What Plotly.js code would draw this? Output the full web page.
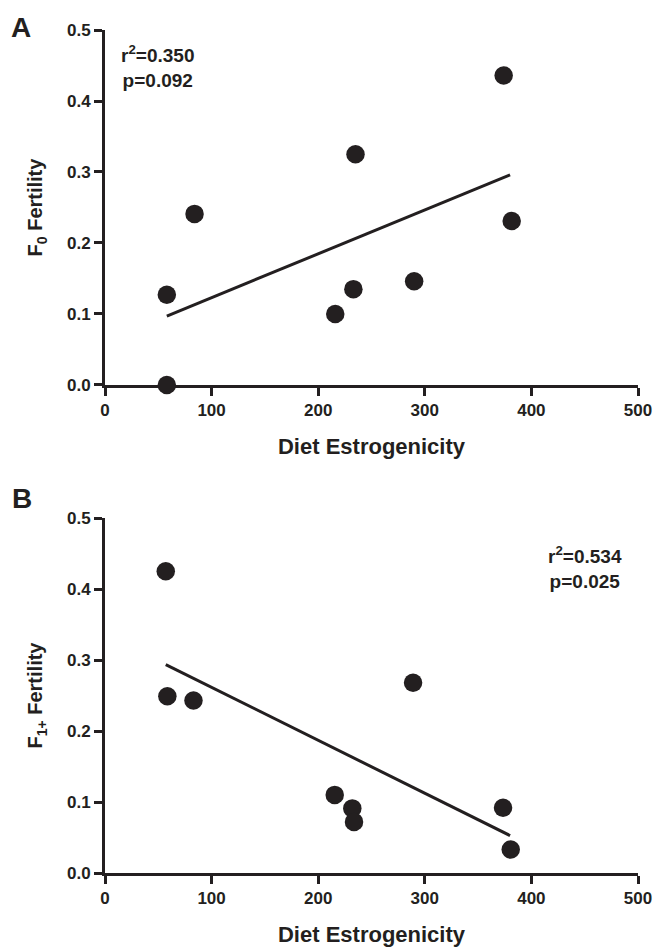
<!DOCTYPE html>
<html>
<head>
<meta charset="utf-8">
<script src="https://cdn.plot.ly/plotly-3.0.1.min.js"></script>
<style>html,body{margin:0;padding:0;background:#fff;}#chart{width:654px;height:947px;}</style>
</head>
<body>
<div id="chart"></div>
<script>
// Panel A: F0 fertility vs diet estrogenicity
var estrogenicityA = [58, 58, 84, 216, 233, 235, 290, 374, 381.5];
var fertilityF0 = [0.0, 0.127, 0.241, 0.100, 0.135, 0.325, 0.146, 0.436, 0.231];
var fitA_x = [58, 380];
var fitA_y = [0.097, 0.296];
var statsA = "r<sup>2</sup>=0.350<br>p=0.092";

// Panel B: F1+ fertility vs diet estrogenicity
var estrogenicityB = [57, 58.5, 83, 215.5, 232, 233.6, 289, 373.4, 380.6];
var fertilityF1 = [0.425, 0.249, 0.243, 0.110, 0.091, 0.072, 0.268, 0.092, 0.033];
var fitB_x = [57, 380];
var fitB_y = [0.2935, 0.0527];
var statsB = "r<sup>2</sup>=0.534<br>p=0.025";

var xTitle = "Diet Estrogenicity";
var yTitleA = "F<sub>0</sub> Fertility";
var yTitleB = "F<sub>1+</sub> Fertility";

var ink = "#231f20";
var fontFam = "Liberation Sans, Arial, sans-serif";

var traces = [
  {x: estrogenicityA, y: fertilityF0, mode: "markers", type: "scatter", xaxis: "x", yaxis: "y",
   marker: {size: 18.5, color: ink}, cliponaxis: false, showlegend: false, hoverinfo: "x+y"},
  {x: fitA_x, y: fitA_y, mode: "lines", type: "scatter", xaxis: "x", yaxis: "y",
   line: {color: ink, width: 3}, showlegend: false},
  {x: estrogenicityB, y: fertilityF1, mode: "markers", type: "scatter", xaxis: "x2", yaxis: "y2",
   marker: {size: 18.5, color: ink}, cliponaxis: false, showlegend: false, hoverinfo: "x+y"},
  {x: fitB_x, y: fitB_y, mode: "lines", type: "scatter", xaxis: "x2", yaxis: "y2",
   line: {color: ink, width: 3}, showlegend: false}
];

function xax(anchor) {
  return {
    anchor: anchor, domain: [0, 1], range: [0, 500], dtick: 100, tick0: 0,
    showline: true, linecolor: ink, linewidth: 3, ticks: "outside", ticklen: 8, tickwidth: 3, tickcolor: ink,
    showgrid: false, zeroline: false, layer: "below traces",
    tickfont: {family: fontFam, size: 17, color: ink, weight: "bold"},
    title: {text: xTitle, font: {family: fontFam, size: 22, color: ink, weight: "bold"}, standoff: 20}
  };
}
function yax(anchor, dom, title) {
  return {
    anchor: anchor, domain: dom, range: [0, 0.5], dtick: 0.1, tick0: 0, tickformat: ".1f",
    showline: true, linecolor: ink, linewidth: 3, ticks: "outside", ticklen: 8, tickwidth: 3, tickcolor: ink,
    showgrid: false, zeroline: false, layer: "below traces",
    tickfont: {family: fontFam, size: 17, color: ink, weight: "bold"},
    title: {text: title, font: {family: fontFam, size: 20, color: ink, weight: "bold"}, standoff: 19}
  };
}

var layout = {
  width: 654, height: 947,
  margin: {l: 105, r: 16, t: 30, b: 74, pad: 0},
  paper_bgcolor: "#fff", plot_bgcolor: "#fff",
  font: {family: fontFam, color: ink},
  xaxis: xax("y"),
  yaxis: yax("x", [0.5789, 1], yTitleA),
  xaxis2: xax("y2"),
  yaxis2: yax("x2", [0, 0.4211], yTitleB),
  annotations: [
    {text: statsA, xref: "x", yref: "y", x: 49.7, y: 0.448, showarrow: false, xanchor: "center", yanchor: "middle",
     align: "center", font: {family: fontFam, size: 19, color: ink, weight: "bold"}},
    {text: statsB, xref: "x2", yref: "y2", x: 450.7, y: 0.4305, showarrow: false, xanchor: "center", yanchor: "middle",
     align: "center", font: {family: fontFam, size: 19, color: ink, weight: "bold"}},
    {text: "A", xref: "paper", yref: "paper", x: -0.1576, y: 1.0024, showarrow: false, xanchor: "center", yanchor: "middle",
     font: {family: fontFam, size: 28, color: ink, weight: "bold"}},
    {text: "B", xref: "paper", yref: "paper", x: -0.156, y: 0.4437, showarrow: false, xanchor: "center", yanchor: "middle",
     font: {family: fontFam, size: 28, color: ink, weight: "bold"}}
  ]
};

Plotly.newPlot("chart", traces, layout, {displayModeBar: false, staticPlot: true});
</script>
</body>
</html>
